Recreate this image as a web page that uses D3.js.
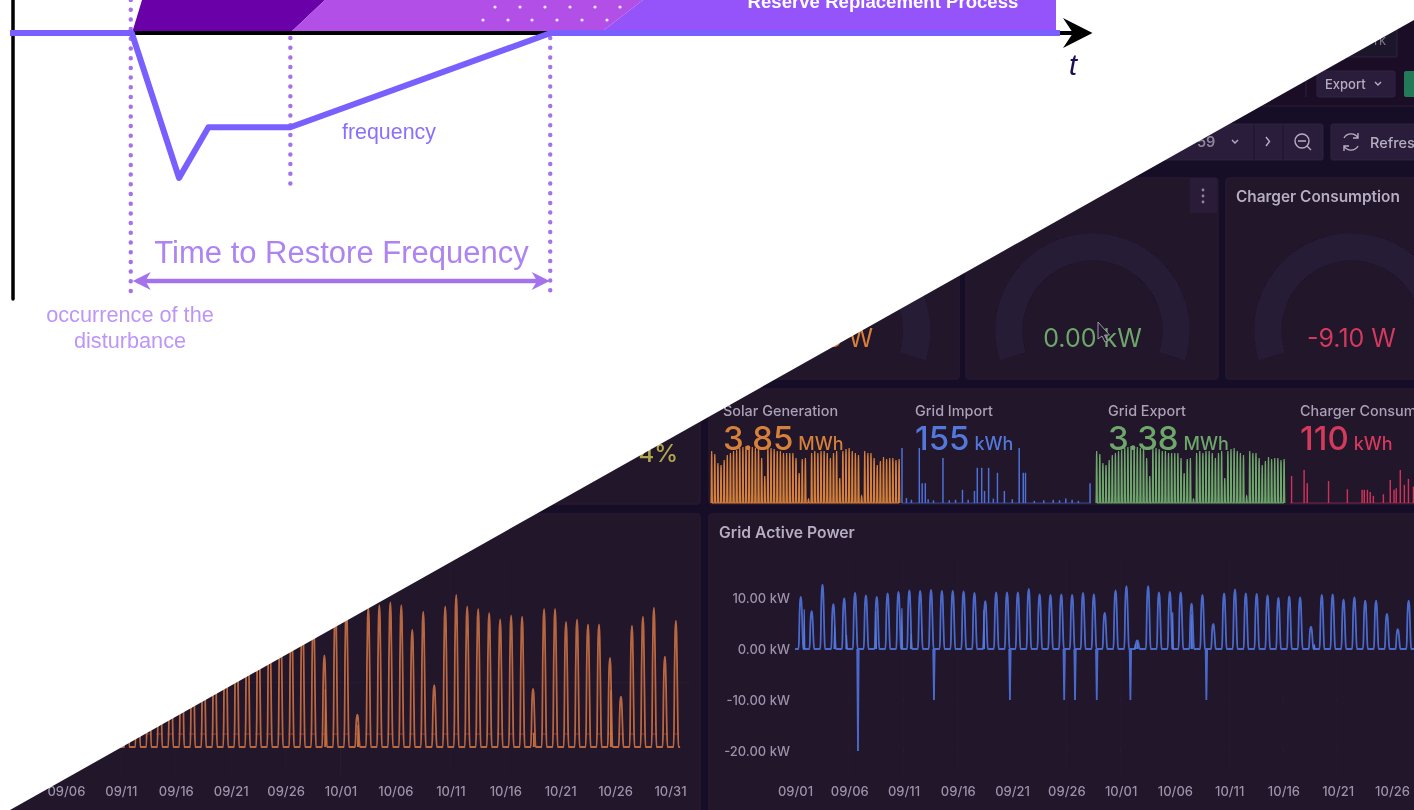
<!DOCTYPE html>
<html>
<head>
<meta charset="utf-8">
<script src="https://cdn.jsdelivr.net/npm/d3@7"></script>
<style>
  html, body { margin: 0; background: #fff; overflow: hidden; }
  svg { display: block; }
  .dash text { font-family: Inter, "Noto Sans", sans-serif; }
  .scheme text { font-family: "Liberation Sans", Arial, sans-serif; }
</style>
</head>
<body>
<div id="chart"></div>
<script>
// ---- values ----
// frequency diagram (time in % of the sketch, frequency in Hz)
const freqTime = [0, 11.6, 16.1, 18.9, 26.7, 51.5, 100];
const freqValue = [50, 50, 49, 49.35, 49.35, 50, 50];
const disturbanceTime = 11.5, holdTime = 26.7, restoreTime = 51.45;

// dashboard dates
const tickDates = ["09-01", "09-06", "09-11", "09-16", "09-21", "09-26", "10-01", "10-06", "10-11", "10-16", "10-21", "10-26", "10-31"];
const gridTicks = [10, 0, -10, -20];
const solarTicks = [0, 5, 10];

// daily peaks in kW, one for each day from 09/01
const solarPeak = [10.2, 7.4, 12.6, 8.8, 9.9, 11.0, 10.5, 10.2, 10.9, 11.2, 11.5, 11.4, 11.6, 11.4, 11.4, 11.3, 11.0, 9.4, 11.1, 11.1, 11.1, 11.8, 10.7, 10.6, 10.7, 10.6, 11.0, 10.7, 7.1, 11.5, 11.2,
  2.5, 10.8, 11.0, 11.2, 11.0, 9.1, 10.5, 4.8, 10.9, 11.8, 10.9, 10.7, 10.4, 9.9, 10.2, 10.1, 4.5, 10.7, 10.7, 9.7, 9.9, 9.5, 9.5, 6.9, 3.9, 9.4, 10.1, 10.8, 7.0, 9.8];
const gridPeak = [10.2, 7.4, 12.6, 8.8, 9.9, 11.0, 10.5, 10.2, 10.9, 11.2, 11.5, 11.4, 11.6, 11.4, 11.4, 11.3, 11.0, 9.4, 11.1, 11.1, 11.1, 11.8, 10.7, 10.6, 10.7, 10.6, 11.0, 10.7, 7.1, 11.5, 12.3,
  1.7, 12.3, 11.1, 11.2, 11.1, 8.9, 10.6, 4.9, 10.9, 11.7, 10.9, 10.8, 10.5, 10.0, 10.3, 10.1, 4.4, 10.6, 10.7, 9.7, 10.1, 9.5, 9.5, 6.9, 3.9, 9.5, 10.1];
// how one sunny day looks: [fraction of the day, fraction of the peak]
const dayProfile = [[0.32, 0], [0.37, 0.18], [0.41, 0.6], [0.47, 0.92], [0.54, 1], [0.6, 0.9], [0.66, 0.55], [0.72, 0.15], [0.77, 0]];

// the stat sparklines are thinned out, so their daily heights differ from the big chart
const sparkPeak = [52, 49, 40, 38, 43, 48, 50, 52, 53, 55, 56, 57, 57, 56, 55, 55, 45, 27, 55, 55, 54, 52, 52, 50, 50, 50, 50, 45, 30, 44, 45,
  4, 50, 52, 50, 52, 52, 50, 45, 50, 52, 25, 52, 54, 55, 52, 50, 48, 7, 52, 50, 50, 45, 38, 42, 46, 44, 45, 45, 43, 44];

// second bumps on a few days
const solarBumpDay = [31.6, 47.6, 54.62, 28.62];
const solarBumpValue = [1.7, 1.1, 4.4, 4.5];
const gridBumpDay = [0.85, 3.65, 4.75, 7.45, 9.85, 10.7, 17.4, 34.8, 36.55, 31.35, 31.55, 47.85];
const gridBumpValue = [7.8, 4.5, 2.8, 7.4, 8, 3, 7.7, 7.2, 6.8, 1, 1.3, 0.9];

// charging pulls on the grid chart
const gridSpikeDay = [5.8, 12.8, 19.8, 24.8, 25.8, 27.8, 30.9, 37.9];
const gridSpikeValue = [-20, -10, -10, -10, -10, -10, -10, -10];
const chargerLimit = 1;

// sparklines, day and height in percent of the tallest one
const importDays = [0, 1.4, 3, 5.5, 6.4, 7.4, 8.3, 10, 13, 15, 17, 19.2, 21, 23, 23.9, 25.3, 26.2, 27.5, 29, 30.3, 32.5, 35, 37.2, 38.5, 39.2, 42, 45, 48, 50, 52, 54, 56, 59.7];
const importValues = [100, 9, 6, 100, 36, 36, 7, 5, 82, 5, 6, 24, 6, 22, 64, 64, 22, 64, 8, 55, 22, 7, 100, 55, 55, 4, 5, 6, 5, 8, 6, 4, 36];
const chargerDays = [0.5, 4.5, 5.5, 12.3, 18.3, 23, 23.7, 24.7, 25.6, 26.6, 29.8, 32, 33.2, 33.9, 35.2, 36.5, 37.8, 39.4];
const chargerValues = [49, 60, 36, 40, 25, 24, 24, 24, 20, 13, 16, 42, 24, 27, 60, 33, 44, 30];

// stat row
const statNames = ["Solar Generation", "Grid Import", "Grid Export", "Charger Consumption"];
const statValues = ["3.85", "155", "3.38", "110"];
const statUnits = ["MWh", "kWh", "MWh", "kWh"];
const statColors = ["#d5803a", "#5278da", "#6da76b", "#d23a5c"];

// ---- page ----
const W = 1414, H = 810;
const svg = d3.select("#chart").append("svg").attr("width", W).attr("height", H);
const defs = svg.append("defs");
defs.append("clipPath").attr("id", "diag").append("polygon").attr("points", `10,810 1414,20 1414,810`);
defs.append("filter").attr("id", "soft").attr("x", "0").attr("y", "0").attr("width", "1").attr("height", "1")
  .append("feGaussianBlur").attr("stdDeviation", 0.55);
defs.append("clipPath").attr("id", "solarPanel").append("rect").attr("x", 0).attr("y", 514).attr("width", 700).attr("height", 296);

svg.append("rect").attr("width", W).attr("height", H).attr("fill", "#fff");

// ---- frequency scheme on the white half ----
const scheme = svg.append("g").attr("class", "scheme").attr("filter", "url(#soft)");
const xT = d3.scaleLinear().domain([0, 100]).range([10, 1060]);
const yF = d3.scaleLinear().domain([50, 49]).range([33, 178]);

// reserve blocks
const blocks = [
  { fill: "#6a00a8", pts: [[132, 33], [142, 0], [325, 0], [290, 33]] },
  { fill: "#b14fe6", pts: [[290, 33], [325, 0], [643, 0], [600, 33]] },
  { fill: "#9552fa", pts: [[600, 33], [643, 0], [1056, 0], [1056, 33]] }
];
scheme.selectAll("polygon.block").data(blocks).join("polygon").attr("class", "block")
  .attr("points", d => d.pts.join(" ")).attr("fill", d => d.fill);

[[495, 520, 545, 570, 595, 620, 7], [483, 508, 532, 557, 582, 607, 20]].forEach(row => {
  row.slice(0, 6).forEach(x => scheme.append("circle").attr("cx", x).attr("cy", row[6]).attr("r", 1.6).attr("fill", "#f6e9ff"));
});

scheme.append("text").attr("x", 883).attr("y", 8).attr("text-anchor", "middle")
  .attr("font-size", 18.6).attr("font-weight", 700).attr("fill", "#fff").text("Reserve Replacement Process");

// axes
scheme.append("line").attr("x1", 13).attr("x2", 13).attr("y1", 0).attr("y2", 299)
  .attr("stroke", "#000").attr("stroke-width", 3.5).attr("stroke-linecap", "round");
scheme.append("line").attr("x1", 13).attr("x2", 1075).attr("y1", 33).attr("y2", 33)
  .attr("stroke", "#000").attr("stroke-width", 4);
scheme.append("polygon").attr("points", "1092.5,33 1063,18 1073,33 1063,48").attr("fill", "#000");
scheme.append("text").attr("x", 1073).attr("y", 75).attr("text-anchor", "middle")
  .attr("font-family", "Liberation Serif").attr("font-style", "italic").attr("font-size", 29).attr("fill", "#1c0a55").text("t");

// dotted markers
[[disturbanceTime, 0, 298], [holdTime, 38, 192], [restoreTime, 38, 298]].forEach(m => {
  scheme.append("line").attr("x1", xT(m[0])).attr("x2", xT(m[0])).attr("y1", m[1]).attr("y2", m[2])
    .attr("stroke", "#a473ec").attr("stroke-width", 4.5).attr("stroke-linecap", "round").attr("stroke-dasharray", "0 9.7");
});

// frequency line
scheme.append("path").datum(d3.zip(freqTime, freqValue))
  .attr("d", d3.line().x(d => xT(d[0])).y(d => yF(d[1])))
  .attr("fill", "none").attr("stroke", "#7a5fff").attr("stroke-width", 6).attr("stroke-linejoin", "round");

// time to restore arrow
const arrowY = 281;
scheme.append("line").attr("x1", xT(disturbanceTime) + 6).attr("x2", xT(restoreTime) - 6).attr("y1", arrowY).attr("y2", arrowY)
  .attr("stroke", "#a473ec").attr("stroke-width", 4.5);
[[xT(disturbanceTime) + 2, 18], [xT(restoreTime) - 0.5, -18]].forEach(a => {
  scheme.append("polygon").attr("points", `${a[0]},${arrowY} ${a[0] + a[1]},${arrowY - 9} ${a[0] + a[1] * 0.7},${arrowY} ${a[0] + a[1]},${arrowY + 9}`).attr("fill", "#a473ec");
});

scheme.append("text").attr("x", 341.5).attr("y", 263).attr("text-anchor", "middle")
  .attr("font-size", 31).attr("fill", "#ad84f0").text("Time to Restore Frequency");
scheme.append("text").attr("x", 389).attr("y", 139).attr("text-anchor", "middle")
  .attr("font-size", 21.4).attr("fill", "#8a70ff").text("frequency");
scheme.append("text").attr("x", 130).attr("y", 322).attr("text-anchor", "middle")
  .attr("font-size", 21.7).attr("fill", "#bd96f6").text("occurrence of the");
scheme.append("text").attr("x", 130).attr("y", 348).attr("text-anchor", "middle")
  .attr("font-size", 21.7).attr("fill", "#bd96f6").text("disturbance");

// ---- dashboard on the dark half ----
const dashClip = svg.append("g").attr("clip-path", "url(#diag)");
const dash = dashClip.append("g").attr("class", "dash").attr("filter", "url(#soft)");
dash.append("rect").attr("width", W).attr("height", H).attr("fill", "#190d25");

const panelFill = "#201229", panelEdge = "#2b1b37";
const panels = [
  [0, 178, 959, 201], [966, 178, 252, 201], [1226, 178, 300, 201],
  [0, 389, 700, 115], [709, 389, 800, 115],
  [0, 514, 700, 320], [709, 514, 800, 320]
];
dash.selectAll("rect.panel").data(panels).join("rect").attr("class", "panel")
  .attr("x", d => d[0]).attr("y", d => d[1]).attr("width", d => d[2]).attr("height", d => d[3])
  .attr("rx", 2).attr("fill", panelFill).attr("stroke", panelEdge);

// header strip and toolbar
dash.append("rect").attr("width", W).attr("height", 106).attr("fill", "#1c0f28");
dash.append("line").attr("x1", 0).attr("x2", W).attr("y1", 106).attr("y2", 106).attr("stroke", "#2b1b37");
function button(x, y, w, h, fill) {
  dash.append("rect").attr("x", x).attr("y", y).attr("width", w).attr("height", h).attr("rx", 2)
    .attr("fill", fill).attr("stroke", "#2f2240");
}
button(1290, 17, 107, 40, "#1f122b");
button(1317, 71, 78, 26, "#2b1e3a");
dash.append("line").attr("x1", 1306).attr("x2", 1306).attr("y1", 71).attr("y2", 97).attr("stroke", "#2f2240");
dash.append("rect").attr("x", 1404).attr("y", 71).attr("width", 30).attr("height", 26).attr("rx", 2).attr("fill", "#237a58");
button(1100, 124, 223, 36, "#2b1e3a");
button(1331, 124, 120, 36, "#2b1e3a");
dash.append("text").attr("x", 1374).attr("y", 45).attr("font-size", 13).attr("fill", "#7d7590").text("rk");
dash.append("text").attr("x", 1325).attr("y", 89).attr("font-size", 13).attr("font-weight", 500).attr("fill", "#b5aec2").text("Export");
dash.append("text").attr("x", 1197).attr("y", 147).attr("font-size", 14.5).attr("font-weight", 600).attr("fill", "#8d859c").text("59");
dash.append("text").attr("x", 1370).attr("y", 148).attr("font-size", 14.5).attr("font-weight", 500).attr("fill", "#b5aec2").text("Refresh");
const chevrons = [[1375, 82, "M0,0 l3,3 l3,-3"], [1232, 140, "M0,0 l3,3 l3,-3"], [1266, 137, "M0,0 l3.5,4.5 l-3.5,4.5"]];
chevrons.forEach(c => dash.append("path").attr("transform", `translate(${c[0]},${c[1]})`).attr("d", c[2])
  .attr("fill", "none").attr("stroke", "#b5aec2").attr("stroke-width", 1.4));
[1254, 1283].forEach(x => dash.append("line").attr("x1", x).attr("x2", x).attr("y1", 124).attr("y2", 160).attr("stroke", "#221530"));
dash.append("circle").attr("cx", 1302).attr("cy", 141).attr("r", 7).attr("fill", "none").attr("stroke", "#b5aec2").attr("stroke-width", 1.4);
dash.append("path").attr("d", "M1298,141 h8 M1307,146 l4,4").attr("stroke", "#b5aec2").attr("stroke-width", 1.4);
dash.append("path").attr("d", "M1344,138 a8,8 0 0 1 14,0 M1358,146 a8,8 0 0 1 -14,0 M1358,133 v5 h-5 M1344,151 v-5 h5")
  .attr("fill", "none").attr("stroke", "#b5aec2").attr("stroke-width", 1.4);

// gauges
const gaugeArc = d3.arc().innerRadius(70).outerRadius(97.5)
  .startAngle(-108 * Math.PI / 180).endAngle(108 * Math.PI / 180);
const gauges = [
  { cx: 833, text: "7.38 W", color: "#d5803a" },
  { cx: 1092.5, text: "0.00 kW", color: "#6da76b" },
  { cx: 1351.5, text: "-9.10 W", color: "#d23a5c" }
];
gauges.forEach(g => {
  dash.append("path").attr("transform", `translate(${g.cx},330.5)`).attr("d", gaugeArc).attr("fill", "#261a36");
  dash.append("text").attr("x", g.cx).attr("y", 347).attr("text-anchor", "middle")
    .attr("font-size", 25).attr("fill", g.color).text(g.text);
});
// mouse pointer and panel menu
dash.append("path").attr("d", "M1098,322 l0,17 l4,-3 l3,6 l2.5,-1 l-3,-6 l5,0 z").attr("fill", "#201229").attr("stroke", "#a09ab0").attr("stroke-width", 1);
dash.append("rect").attr("x", 1190).attr("y", 178).attr("width", 27).attr("height", 35).attr("fill", "#2b1f39");
[190, 196, 202].forEach(y => dash.append("circle").attr("cx", 1203).attr("cy", y).attr("r", 1.4).attr("fill", "#8d859c"));

dash.append("text").attr("x", 1236).attr("y", 202).attr("font-size", 15.4).attr("font-weight", 600).attr("fill", "#b5aec2").text("Charger Consumption");
dash.append("text").attr("x", 719).attr("y", 538).attr("font-size", 15.7).attr("font-weight", 600).attr("fill", "#b5aec2").text("Grid Active Power");

// left stat remainder
dash.append("text").attr("x", 678).attr("y", 462).attr("text-anchor", "end")
  .attr("font-size", 24).attr("font-weight", 500).attr("fill", "#b0a74e").text("4%");

// stat row text
const statX = [723, 915, 1108, 1300];
statNames.forEach((name, i) => {
  dash.append("text").attr("x", statX[i]).attr("y", 416).attr("font-size", 14.4).attr("font-weight", 500).attr("fill", "#a9a2b6").text(name);
  const t = dash.append("text").attr("x", statX[i]).attr("y", 450).attr("fill", statColors[i]);
  t.append("tspan").attr("font-size", 33).attr("font-weight", 500).text(statValues[i]);
  t.append("tspan").attr("dx", 5).attr("font-size", 18).attr("font-weight", 500).text(statUnits[i]);
});

// one curve of a day for each peak in the series
function dailyPoints(peaks) {
  const pts = [];
  peaks.forEach((peak, day) => dayProfile.forEach(p => pts.push([day + p[0], peak * p[1]])));
  return pts;
}

// sparklines
const sparkTop = 448, sparkBase = 503;
function sparkDaily(x0, x1, peaks, color) {
  const x = d3.scaleLinear().domain([0, 60.5]).range([x0, x1]);
  const y = d3.scaleLinear().domain([0, 55]).range([sparkBase, sparkTop]);
  const pts = dailyPoints(peaks);
  dash.append("path").datum(pts).attr("fill", color).attr("fill-opacity", 0.75)
    .attr("d", d3.area().x(d => x(d[0])).y0(sparkBase).y1(d => y(d[1])));
  dash.append("path").datum(pts).attr("fill", "none").attr("stroke", color).attr("stroke-width", 1.2)
    .attr("d", d3.line().x(d => x(d[0])).y(d => y(d[1])));
}
function sparkPulses(x0, x1, days, values, color) {
  const x = d3.scaleLinear().domain([0, 60]).range([x0, x1]);
  const y = d3.scaleLinear().domain([0, 100]).range([sparkBase, sparkTop]);
  dash.append("line").attr("x1", x0).attr("x2", x1).attr("y1", sparkBase).attr("y2", sparkBase).attr("stroke", color).attr("stroke-opacity", 0.6);
  dash.selectAll(null).data(d3.zip(days, values)).join("line")
    .attr("x1", d => x(d[0])).attr("x2", d => x(d[0]))
    .attr("y1", sparkBase).attr("y2", d => y(d[1]))
    .attr("stroke", color).attr("stroke-width", 1.5);
}
sparkDaily(710, 899, sparkPeak, "#d5803a");
sparkPulses(902, 1091, importDays, importValues, "#4c72d8");
sparkDaily(1095, 1284, sparkPeak, "#6da76b");
sparkPulses(1290, 1478, chargerDays, chargerValues, "#c7345a");

// time series charts
const parseDay = d => new Date(`2023-${d}T00:00:00Z`);
const tickValues = tickDates.map(parseDay);
const dayMs = 24 * 3600 * 1000;
const fmt = d3.utcFormat("%m/%d");

function styleAxis(g) {
  g.select(".domain").remove();
  g.selectAll(".tick line").remove();
  g.selectAll("text").attr("fill", "#9b93a9").attr("font-size", 13).attr("font-weight", 500)
    .style("font-family", "Inter, 'Noto Sans', sans-serif");
}

// solar power, left panel
const xSolar = d3.scaleUtc().domain([parseDay("09-01"), parseDay("10-31")]).range([11, 670]);
const ySolar = d3.scaleLinear().domain([0, 10]).range([747, 618]);
const dayX = (scale, t) => scale(new Date(parseDay("09-01").getTime() + t * dayMs));

const solarG = dash.append("g").attr("clip-path", "url(#solarPanel)");
solarG.selectAll("line.v").data(tickValues).join("line").attr("class", "v")
  .attr("x1", d => xSolar(d)).attr("x2", d => xSolar(d)).attr("y1", 560).attr("y2", 775)
  .attr("stroke", "#fff").attr("stroke-opacity", 0.035);
solarG.selectAll("line.h").data(solarTicks).join("line").attr("class", "h")
  .attr("x1", 0).attr("x2", 690).attr("y1", d => ySolar(d)).attr("y2", d => ySolar(d))
  .attr("stroke", "#fff").attr("stroke-opacity", 0.035);
solarG.append("path").datum([[0.2, chargerLimit], [60.9, chargerLimit]])
  .attr("d", d3.line().x(d => dayX(xSolar, d[0])).y(d => ySolar(d[1])))
  .attr("fill", "none").attr("stroke", "#b0424f").attr("stroke-opacity", 0.5).attr("stroke-width", 1.5).attr("stroke-dasharray", "6 5");
const solarLine = d3.line().x(d => dayX(xSolar, d[0])).y(d => ySolar(d[1])).curve(d3.curveMonotoneX);
solarG.append("path").datum([[0, 0]].concat(dailyPoints(solarPeak), [[60.92, 0]]))
  .attr("d", solarLine).attr("fill", "none").attr("stroke", "#b8673f").attr("stroke-width", 1.8);
const bumpLine = d3.line().x(d => dayX(xSolar, d[0])).y(d => ySolar(d[1]));
solarBumpDay.forEach((day, i) => {
  solarG.append("path").datum([[day - 0.05, 0], [day, solarBumpValue[i]], [day + 0.05, 0]])
    .attr("d", bumpLine).attr("fill", "#c9733f").attr("stroke", "#c9733f").attr("stroke-width", 1);
});
dash.append("g").attr("transform", "translate(0,776)")
  .call(d3.axisBottom(xSolar).tickValues(tickValues).tickFormat(fmt).tickSize(0).tickPadding(11))
  .call(styleAxis);

// grid active power, right panel
const xGrid = d3.scaleUtc().domain([parseDay("09-01"), parseDay("10-26")]).range([795, 1392]);
const yGrid = d3.scaleLinear().domain([-20, 10]).range([751, 598]);

dash.selectAll("line.gv").data(tickValues).join("line").attr("class", "gv")
  .attr("x1", d => xGrid(d)).attr("x2", d => xGrid(d)).attr("y1", 560).attr("y2", 775)
  .attr("stroke", "#fff").attr("stroke-opacity", 0.035);
dash.selectAll("line.gh").data(gridTicks).join("line").attr("class", "gh")
  .attr("x1", 795).attr("x2", W).attr("y1", d => yGrid(d)).attr("y2", d => yGrid(d))
  .attr("stroke", "#fff").attr("stroke-opacity", 0.035);
const gridLine = d3.line().x(d => dayX(xGrid, d[0])).y(d => yGrid(d[1]));
dash.append("path").datum([[0, 0]].concat(dailyPoints(gridPeak)))
  .attr("d", gridLine.curve(d3.curveMonotoneX)).attr("fill", "none").attr("stroke", "#4a6bcb").attr("stroke-width", 1.8);
const spikeLine = d3.line().x(d => dayX(xGrid, d[0])).y(d => yGrid(d[1]));
gridSpikeDay.forEach((day, i) => {
  dash.append("path").datum([[day - 0.07, 0], [day, gridSpikeValue[i]], [day + 0.07, 0]])
    .attr("d", spikeLine).attr("fill", "#4a6bcb").attr("stroke", "#4a6bcb").attr("stroke-width", 1.8);
});
gridBumpDay.forEach((day, i) => {
  dash.append("path").datum([[day - 0.06, 0], [day, gridBumpValue[i]], [day + 0.06, 0]])
    .attr("d", spikeLine).attr("fill", "#5379dd").attr("stroke", "#5379dd").attr("stroke-width", 1.1);
});
dash.append("g").attr("transform", "translate(0,776)")
  .call(d3.axisBottom(xGrid).tickValues(tickValues).tickFormat(fmt).tickSize(0).tickPadding(11))
  .call(styleAxis);
dash.append("g").attr("transform", "translate(790,0)")
  .call(d3.axisLeft(yGrid).tickValues(gridTicks).tickFormat(d => d.toFixed(2) + " kW").tickSize(0).tickPadding(0))
  .call(styleAxis);
</script>
</body>
</html>
